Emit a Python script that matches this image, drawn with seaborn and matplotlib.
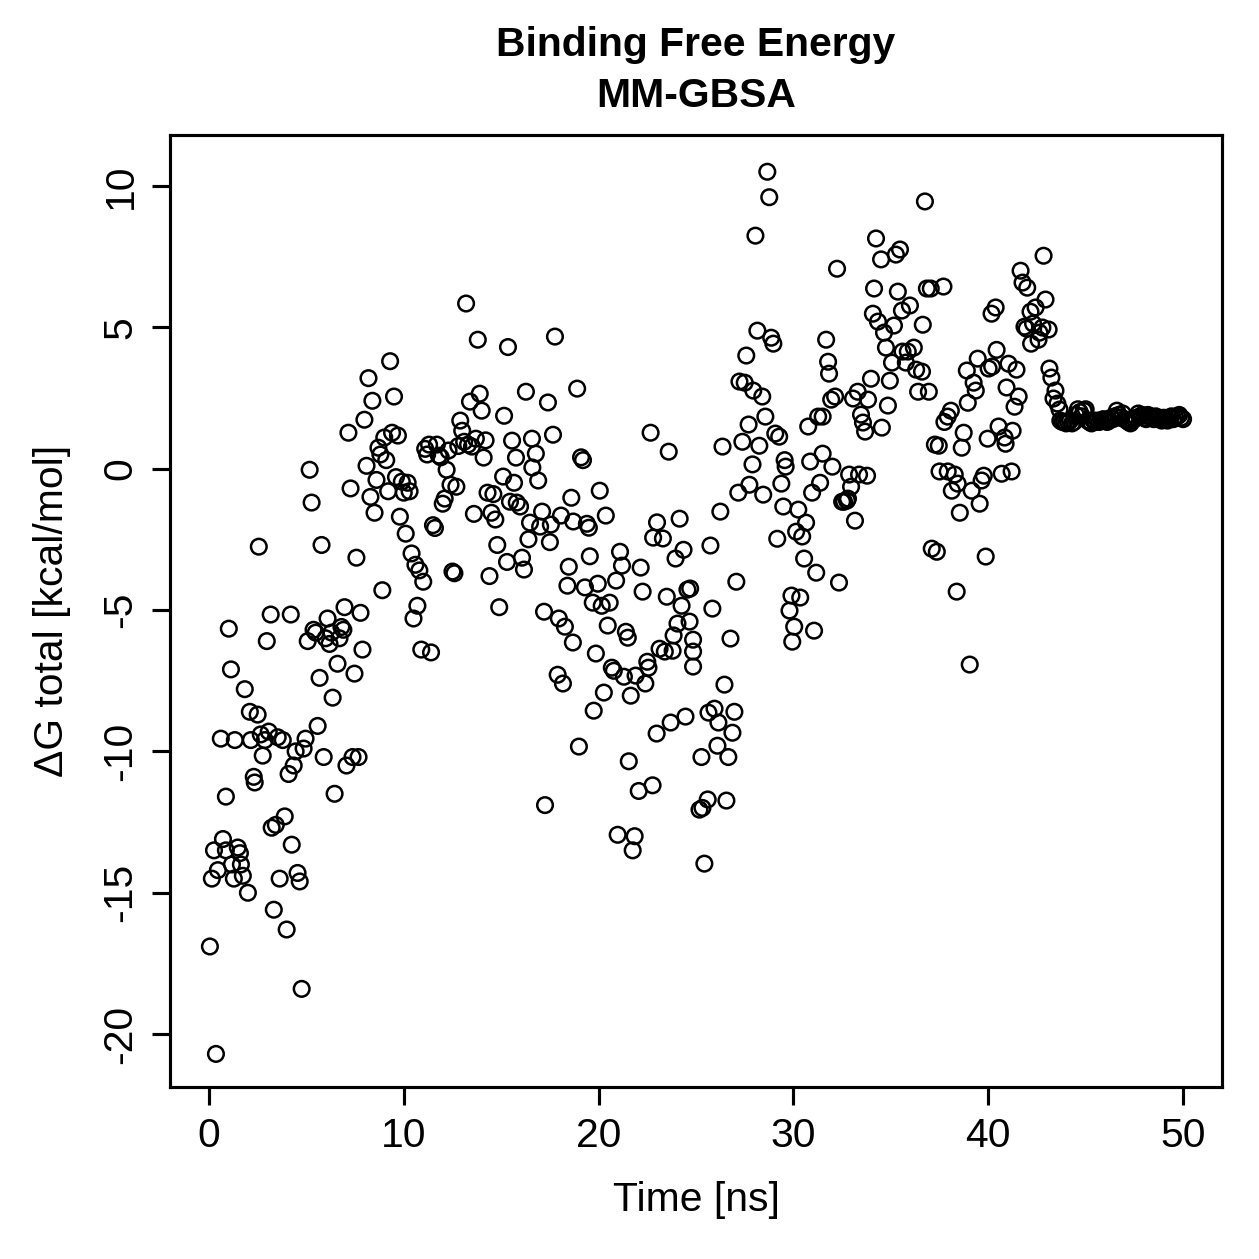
import pandas as pd
import matplotlib
matplotlib.use("Agg")
import matplotlib.pyplot as plt
import seaborn as sns

# (time [ns], dG total [kcal/mol])
early_pts = [
    (0.05, -16.9), (0.36, -20.7), (0.15, -14.5), (0.26, -13.5), (0.46, -14.2), (0.61, -9.55), (0.72, -13.1), (0.87, -13.5), (0.87, -11.6), (1.02, -5.66),
    (1.13, -7.1), (1.18, -14.0), (1.28, -14.5), (1.33, -9.6), (1.48, -13.4), (1.59, -13.6), (1.64, -14.0), (1.74, -14.4), (1.84, -7.8), (2.0, -15.0),
    (2.1, -8.6), (2.15, -9.6), (2.3, -10.9), (2.35, -11.1), (2.5, -8.7), (2.56, -2.76), (2.66, -9.4), (2.76, -10.15), (2.87, -9.6), (2.97, -6.1),
    (3.07, -9.3), (3.17, -5.16), (3.22, -12.7), (3.33, -15.6), (3.43, -12.6), (3.53, -9.5), (3.63, -14.5), (3.79, -9.6), (3.89, -12.3), (3.99, -16.3),
    (4.09, -10.8), (4.2, -5.16), (4.25, -13.3), (4.35, -10.5), (4.45, -10.0), (4.55, -14.3), (4.66, -14.6), (4.76, -18.4), (4.86, -9.9), (4.96, -9.55),
    (5.07, -6.1), (5.17, -0.04), (5.27, -1.2), (5.37, -5.7), (5.48, -5.8), (5.58, -9.1), (5.68, -7.4), (5.78, -2.7), (5.89, -10.2), (5.99, -6.0),
    (6.09, -5.3), (6.19, -6.2), (6.29, -5.8), (6.35, -8.1), (6.45, -11.5), (6.6, -6.9), (6.7, -6.0), (6.8, -5.6), (6.9, -5.7), (6.96, -4.9),
    (7.06, -10.5), (7.16, 1.27), (7.27, -0.7), (7.37, -10.2), (7.47, -7.25), (7.57, -3.15), (7.68, -10.2), (7.78, -5.1), (7.88, -6.4), (7.98, 1.73),
    (8.09, 0.1), (8.19, 3.2), (8.29, -1.0), (8.39, 2.4), (8.5, -1.56), (8.6, -0.4), (8.7, 0.74), (8.8, 0.5), (8.9, -4.3), (9.0, 1.1),
    (9.1, 0.3), (9.2, -0.8), (9.3, 3.8), (9.4, 1.27), (9.5, 2.55), (9.6, -0.3), (9.7, 1.17), (9.8, -1.7), (9.9, -0.46),
]

mid_pts = [
    (10.0, -0.85), (10.1, -2.3), (10.2, -0.5), (10.3, -0.8), (10.4, -3.0), (10.5, -5.3), (10.6, -3.4), (10.7, -4.85), (10.8, -3.6), (10.9, -6.4),
    (11.0, -4.0), (11.1, 0.7), (11.2, 0.5), (11.3, 0.85), (11.4, -6.5), (11.5, -2.0), (11.6, -2.1), (11.7, 0.85), (11.8, 0.46), (11.9, 0.4),
    (12.0, -1.24), (12.1, -1.06), (12.2, -0.04), (12.3, 0.64), (12.4, -0.57), (12.5, -3.64), (12.6, -3.7), (12.7, -0.64), (12.8, 0.8), (12.9, 1.7),
    (13.0, 1.34), (13.1, 0.95), (13.2, 5.84), (13.3, 0.85), (13.4, 2.37), (13.5, 0.78), (13.6, -1.6), (13.7, 1.06), (13.8, 4.56), (13.9, 2.65),
    (14.0, 2.05), (14.1, 0.39), (14.2, 1.0), (14.3, -0.85), (14.4, -3.8), (14.5, -1.56), (14.6, -0.9), (14.7, -1.8), (14.8, -2.7), (14.9, -4.9),
    (15.35, 4.3), (17.76, 4.67), (16.27, 2.72), (17.4, 2.34), (18.9, 2.83), (15.15, 1.87), (15.56, 0.99), (16.58, 1.06), (17.66, 1.2), (15.76, 0.39),
    (16.78, 0.53), (19.1, 0.4), (19.2, 0.3), (22.67, 1.27), (23.6, 0.6),
    (16.6, 0.04), (16.9, -0.42), (15.1, -0.28), (15.66, -0.5), (15.45, -1.17), (15.8, -1.2), (15.97, -1.34), (17.1, -1.52), (18.07, -1.66), (18.7, -1.87),
    (19.4, -1.95), (19.5, -2.09), (20.37, -1.66), (18.6, -1.03), (20.06, -0.78), (16.48, -1.91), (17.0, -2.05), (17.55, -1.98), (16.4, -2.5), (17.5, -2.6),
    (15.3, -3.3), (16.07, -3.15), (16.17, -3.57), (18.47, -3.47), (19.55, -3.1), (21.1, -2.94), (21.2, -3.43), (22.16, -3.5), (23.0, -1.9), (24.16, -1.77),
    (22.8, -2.44), (23.3, -2.47), (24.36, -2.87), (23.95, -3.18), (18.4, -4.14), (19.3, -4.2), (19.96, -4.07), (20.9, -3.96), (22.26, -4.35), (23.5, -4.53),
    (24.56, -4.28), (24.7, -4.24), (19.7, -4.74), (20.16, -4.85), (20.57, -4.74), (24.26, -4.85), (17.2, -5.06), (17.96, -5.3), (18.27, -5.59), (20.47, -5.55),
    (21.4, -5.77), (21.5, -5.98), (24.05, -5.48), (24.67, -5.41), (23.85, -5.9), (24.85, -6.05), (18.68, -6.15), (19.86, -6.54), (23.13, -6.37), (23.4, -6.47),
    (23.8, -6.44), (24.85, -6.47), (24.85, -7.0), (22.5, -6.83), (22.56, -7.04), (20.68, -7.04), (20.78, -7.15), (17.9, -7.29), (18.17, -7.6), (21.3, -7.36),
    (21.9, -7.32), (22.4, -7.6), (20.27, -7.92), (21.65, -8.03), (19.75, -8.56), (24.46, -8.77), (23.7, -8.98), (22.98, -9.37), (18.99, -9.83), (21.55, -10.35),
    (22.06, -11.4), (22.77, -11.2), (17.25, -11.9), (20.98, -12.95), (21.85, -13.0), (21.75, -13.5),
]

late_pts = [
    (28.66, 10.5), (28.76, 9.6), (28.05, 8.24), (36.75, 9.45), (34.24, 8.14), (35.47, 7.75), (35.26, 7.57), (34.5, 7.4), (32.24, 7.07), (34.14, 6.37),
    (35.36, 6.26), (36.85, 6.37), (37.05, 6.37), (37.7, 6.44), (34.08, 5.48), (34.34, 5.2), (35.57, 5.59), (35.98, 5.77), (35.16, 5.06), (34.65, 4.81),
    (36.64, 5.09), (28.15, 4.88), (28.86, 4.63), (28.97, 4.42), (34.75, 4.28), (35.6, 4.14), (35.87, 4.14), (36.18, 4.28), (31.68, 4.56), (27.58, 4.0),
    (31.78, 3.78), (31.83, 3.36), (35.06, 3.75), (35.77, 3.75), (36.3, 3.5), (36.6, 3.43), (27.23, 3.08), (27.5, 3.04), (27.94, 2.76), (28.4, 2.55),
    (34.95, 3.11), (33.98, 3.18), (36.4, 2.72), (36.95, 2.72), (33.3, 2.72), (33.06, 2.48), (33.83, 2.44), (34.85, 2.23), (32.14, 2.55), (31.94, 2.44),
    (28.56, 1.84), (27.7, 1.56), (29.07, 1.24), (29.27, 1.13), (27.38, 0.95), (26.36, 0.78), (28.25, 0.81), (30.76, 1.49), (31.27, 1.84), (31.5, 1.84),
    (31.5, 0.53), (33.47, 1.91), (33.57, 1.63), (33.68, 1.31), (34.54, 1.45), (37.26, 0.85), (37.46, 0.81), (37.75, 1.65),
    (27.9, 0.15), (29.55, 0.3), (29.6, 0.07), (30.86, 0.25), (32.0, 0.07),
    (32.86, -0.21), (33.37, -0.21), (33.78, -0.25), (27.74, -0.57), (29.38, -0.53), (31.37, -0.5), (27.17, -0.85), (28.45, -0.92), (30.96, -0.85), (32.96, -0.64),
    (32.5, -1.17), (32.6, -1.17), (32.75, -1.13), (32.8, -1.06), (29.48, -1.34), (30.25, -1.45), (26.25, -1.52), (33.16, -1.84), (30.65, -1.91), (30.14, -2.23),
    (30.45, -2.4), (29.17, -2.48), (25.74, -2.72), (30.55, -3.18), (31.17, -3.68), (32.34, -4.03), (27.07, -4.0), (29.9, -4.49), (30.35, -4.56), (29.8, -5.02),
    (30.04, -5.59), (31.06, -5.73), (29.94, -6.12), (25.84, -4.95), (26.77, -6.01), (26.46, -7.64), (25.64, -8.63), (25.95, -8.49), (26.97, -8.6), (26.15, -8.98),
    (26.87, -9.34), (26.1, -9.8), (25.28, -10.2), (26.66, -10.2), (37.1, -2.83), (37.36, -2.94), (37.5, -0.1),
    (25.6, -11.7), (25.33, -12.0), (25.18, -12.06), (26.56, -11.74), (25.43, -13.97),
    (42.84, 7.53), (41.66, 7.0), (41.76, 6.58), (42.0, 6.4), (42.94, 5.98), (40.38, 5.7), (40.17, 5.48), (42.17, 5.55), (42.43, 5.7), (41.86, 5.02),
    (41.97, 4.95), (42.3, 5.13), (42.78, 4.99), (43.1, 4.92), (42.63, 4.81), (42.2, 4.42), (42.58, 4.56), (40.43, 4.2), (39.46, 3.89), (38.9, 3.47),
    (40.02, 3.54), (40.2, 3.61), (41.04, 3.71), (41.45, 3.5), (39.25, 3.04), (39.36, 2.76), (40.94, 2.87), (43.14, 3.54), (43.24, 3.22), (38.95, 2.33),
    (41.56, 2.55), (41.35, 2.19), (43.45, 2.76), (43.35, 2.48), (43.55, 2.3), (43.66, 2.09), (38.08, 2.05), (37.92, 1.84), (38.74, 1.27), (38.64, 0.74),
    (40.53, 1.49), (41.25, 1.34), (40.84, 1.1), (40.89, 0.88), (39.97, 1.06),
    (37.92, -0.1), (38.28, -0.21), (38.43, -0.53), (38.13, -0.78), (39.77, -0.25), (39.66, -0.42), (40.69, -0.18), (41.2, -0.1), (39.15, -0.78), (39.56, -1.24),
    (38.54, -1.56), (39.87, -3.11), (38.38, -4.35), (39.05, -6.93),
]

# converged tail, one frame every 0.1 ns
tail_pts = [
    (43.7, 1.7), (43.8, 1.65), (43.9, 1.65), (44.0, 1.6), (44.1, 1.65), (44.2, 1.7), (44.3, 1.6), (44.4, 1.65), (44.5, 1.9), (44.6, 2.1),
    (44.7, 2.0), (44.8, 1.85), (44.9, 2.05), (45.0, 2.1), (45.1, 1.7), (45.2, 1.65), (45.3, 1.6), (45.4, 1.7), (45.5, 1.65), (45.6, 1.7),
    (45.7, 1.65), (45.8, 1.7), (45.9, 1.75), (46.0, 1.7), (46.1, 1.65), (46.2, 1.7), (46.3, 1.8), (46.4, 1.75), (46.5, 1.85), (46.6, 2.05),
    (46.7, 1.9), (46.8, 1.8), (46.9, 1.95), (47.0, 1.75), (47.1, 1.7), (47.2, 1.65), (47.3, 1.6), (47.4, 1.7), (47.5, 1.75), (47.6, 1.8),
    (47.7, 1.95), (47.8, 1.85), (47.9, 1.9), (48.0, 1.8), (48.1, 1.75), (48.2, 1.9), (48.3, 1.85), (48.4, 1.8), (48.5, 1.75), (48.6, 1.85),
    (48.7, 1.8), (48.8, 1.75), (48.9, 1.7), (49.0, 1.8), (49.1, 1.75), (49.2, 1.7), (49.3, 1.8), (49.4, 1.85), (49.5, 1.75), (49.6, 1.8),
    (49.7, 1.85), (49.8, 1.9), (49.9, 1.8), (50.0, 1.75),
]

x_ticks = [0, 10, 20, 30, 40, 50]
y_ticks = [-20, -15, -10, -5, 0, 5, 10]
y_tick_labels = ["-20", "-15", "-10", "-5", "0", "5", "10"]


def main():
    df = pd.DataFrame(early_pts + mid_pts + late_pts + tail_pts, columns=["time", "dg"])

    sns.set_style("ticks")
    plt.rcParams["font.family"] = ["Liberation Sans", "DejaVu Sans"]
    plt.rcParams["axes.unicode_minus"] = False
    plt.rcParams["text.color"] = "black"
    fs = 9.8

    W = 1259
    fig = plt.figure(figsize=(W / 300, W / 300), dpi=300)
    ax = fig.add_axes([170 / W, 1 - 1087 / W, (1222 - 170) / W, (1087 - 135) / W])

    sns.scatterplot(data=df, x="time", y="dg", ax=ax, marker="o", s=14,
                    facecolors="none", edgecolor="black", linewidth=0.6)

    ax.set_xlim(-1.998, 51.998)
    ax.set_ylim(-21.87, 11.80)
    ax.set_xticks(x_ticks)
    ax.set_xticklabels([str(v) for v in x_ticks], fontsize=fs)
    ax.set_yticks(y_ticks)
    ax.set_yticklabels(y_tick_labels, fontsize=fs, rotation=90, va="center")
    ax.tick_params(direction="out", length=4.3, width=0.75, color="black",
                   labelcolor="black", pad=3)
    for sp in ax.spines.values():
        sp.set_visible(True)
        sp.set_linewidth(0.75)
        sp.set_color("black")
    ax.set_xlabel("")
    ax.set_ylabel("")

    cx = (170 + 1222) / 2 / W
    fig.text(cx, 1 - 45 / W, "Binding Free Energy", ha="center", va="center",
             fontsize=fs, fontweight="bold", color="black")
    fig.text(cx, 1 - 96 / W, "MM-GBSA", ha="center", va="center",
             fontsize=fs, fontweight="bold", color="black")
    fig.text(cx, 1 - 1200 / W, "Time [ns]", ha="center", va="center",
             fontsize=fs, color="black")
    fig.text(52 / W, 1 - 611 / W, "ΔG total [kcal/mol]", ha="center", va="center",
             rotation=90, fontsize=fs, color="black")

    fig.savefig("out.png", dpi=300, facecolor="white")


if __name__ == "__main__":
    main()
